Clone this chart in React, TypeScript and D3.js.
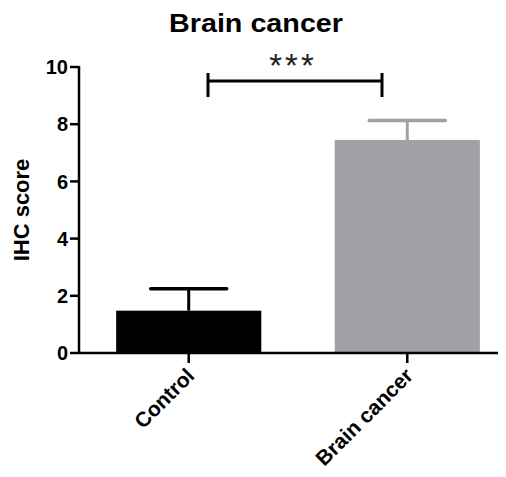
import React from "react";
import * as d3 from "d3";

const categories = ["Control", "Brain cancer"];
const means = [1.48, 7.45];
const errors = [0.77, 0.68];
const barColors = ["#000000", "#a1a0a5"];
const yTicks = [0, 2, 4, 6, 8, 10];
const title = "Brain cancer";
const yLabel = "IHC score";
const sigLabel = "***";

export default function App() {
  const W = 506, H = 477;
  const y = d3.scaleLinear().domain([0, 10]).range([353, 67]);
  const x = d3.scaleBand<string>().domain(categories).range([79, 517]).paddingInner(0.336).paddingOuter(0.17);
  const axisX = 79;
  const font = "Arial, 'Liberation Sans', sans-serif";
  const bw = x.bandwidth();
  const capW = 76;
  const brY = 81;
  return (
    <div style={{ margin: -8 }}>
      <svg width={W} height={H} style={{ display: "block", background: "#fff" }}>
        <text x={256} y={32} textAnchor="middle" fontFamily={font} fontWeight="bold" fontSize={25} textLength={174} lengthAdjust="spacingAndGlyphs">{title}</text>
        {categories.map((c, i) => {
          const cx = x(c)! + bw / 2;
          return (
            <g key={c}>
              <line x1={cx} x2={cx} y1={y(means[i])} y2={y(means[i] + errors[i])} stroke={barColors[i]} strokeWidth={3} />
              <line x1={cx - capW / 2} x2={cx + capW / 2} y1={y(means[i] + errors[i])} y2={y(means[i] + errors[i])} stroke={barColors[i]} strokeWidth={3.5} strokeLinecap="round" />
              <rect x={x(c)!} y={y(means[i])} width={bw} height={y(0) - y(means[i])} fill={barColors[i]} />
            </g>
          );
        })}
        <line x1={axisX} x2={axisX} y1={y(10) - 1} y2={y(0) + 1} stroke="#000" strokeWidth={2.5} />
        <line x1={axisX} x2={505} y1={y(0)} y2={y(0)} stroke="#000" strokeWidth={2.5} />
        {yTicks.map((t) => (
          <g key={t}>
            <line x1={axisX - 9} x2={axisX} y1={y(t)} y2={y(t)} stroke="#000" strokeWidth={2.5} />
            <text x={axisX - 11} y={y(t)} dy="0.36em" textAnchor="end" fontFamily={font} fontWeight="bold" fontSize={20}>{t}</text>
          </g>
        ))}
        {categories.map((c) => {
          const cx = x(c)! + bw / 2;
          return (
            <g key={c}>
              <line x1={cx} x2={cx} y1={y(0)} y2={y(0) + 10} stroke="#000" strokeWidth={2.5} />
              <text transform={`translate(${cx + 7},${y(0) + 24}) rotate(-45)`} textAnchor="end" fontFamily={font} fontWeight="bold" fontSize={21}>{c}</text>
            </g>
          );
        })}
        <text transform={`translate(29,210) rotate(-90)`} textAnchor="middle" fontFamily={font} fontWeight="bold" fontSize={22}>{yLabel}</text>
        <line x1={208} x2={382} y1={brY} y2={brY} stroke="#000" strokeWidth={3} />
        <line x1={208} x2={208} y1={73} y2={97} stroke="#000" strokeWidth={3} />
        <line x1={382} x2={382} y1={73} y2={97} stroke="#000" strokeWidth={3} />
        <text x={293} y={77} textAnchor="middle" fontFamily={font} fontSize={33} letterSpacing={3} fill="#222">{sigLabel}</text>
      </svg>
    </div>
  );
}
